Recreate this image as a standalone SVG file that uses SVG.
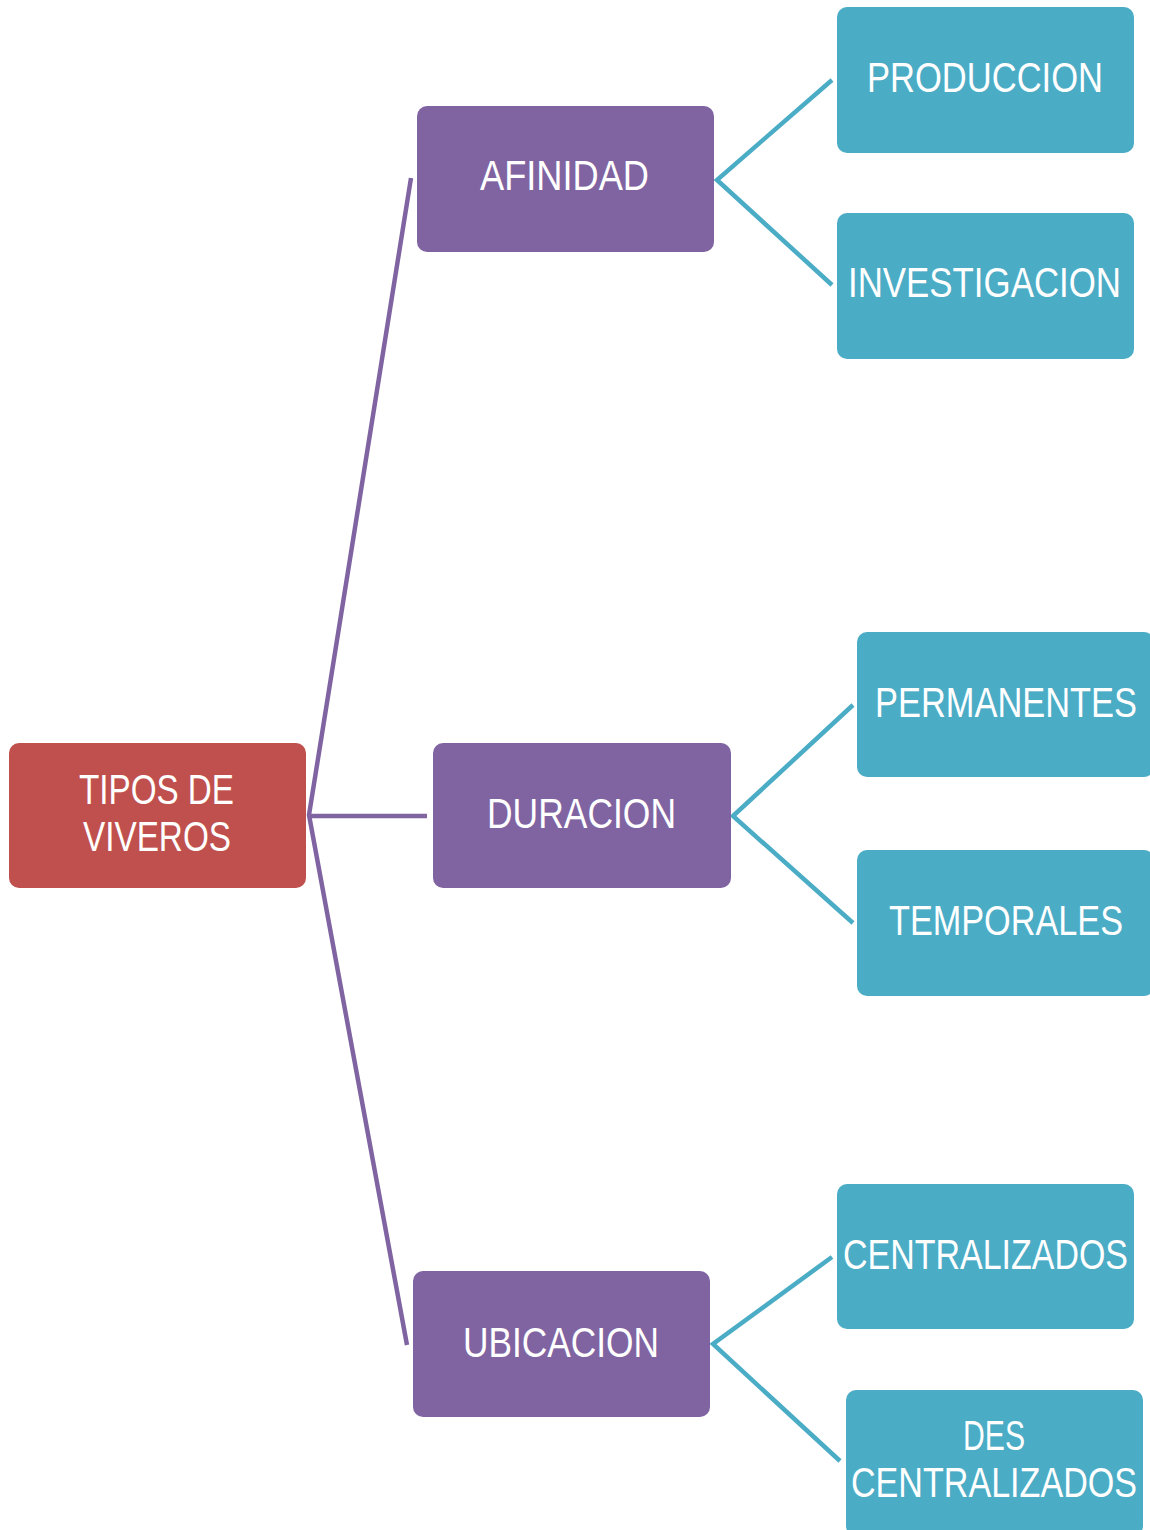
<svg xmlns="http://www.w3.org/2000/svg" width="1150" height="1530" viewBox="0 0 1150 1530">
<style>
.root{fill:#C0504D}
.mid{fill:#8064A2}
.leaf{fill:#4BACC6}
text{font-family:"Liberation Sans","DejaVu Sans",Arial,sans-serif;font-size:42px;fill:#FFFFFF;text-anchor:middle}
.c1{fill:none;stroke:#8064A2;stroke-width:4.5;stroke-linejoin:miter}
.c2{fill:none;stroke:#4BACC6;stroke-width:4.5;stroke-linejoin:miter}
</style>
<rect width="1150" height="1530" fill="#FFFFFF"/>
<g id="connectors">
<path class="c1" d="M411,178 L309,815 L407,1345"/>
<path class="c1" d="M309,816 L427,816"/>
<path class="c2" d="M832,80 L717,180 L832,285"/>
<path class="c2" d="M853,705 L733,816 L853,923"/>
<path class="c2" d="M832,1257 L713,1344 L840,1461"/>
</g>
<g id="tipos">
<rect class="root" x="9" y="743" width="297" height="145" rx="10"/>
<text x="156.5" y="804" textLength="155" lengthAdjust="spacingAndGlyphs">TIPOS DE</text>
<text x="157" y="851" textLength="148" lengthAdjust="spacingAndGlyphs">VIVEROS</text>
</g>
<g id="afinidad">
<rect class="mid" x="417" y="106" width="297" height="146" rx="10"/>
<text x="564.5" y="190" textLength="169" lengthAdjust="spacingAndGlyphs">AFINIDAD</text>
</g>
<g id="duracion">
<rect class="mid" x="433" y="743" width="298" height="145" rx="10"/>
<text x="581.5" y="828" textLength="189" lengthAdjust="spacingAndGlyphs">DURACION</text>
</g>
<g id="ubicacion">
<rect class="mid" x="413" y="1271" width="297" height="146" rx="10"/>
<text x="561" y="1357" textLength="196" lengthAdjust="spacingAndGlyphs">UBICACION</text>
</g>
<g id="produccion">
<rect class="leaf" x="837" y="7" width="297" height="146" rx="10"/>
<text x="985" y="92" textLength="236" lengthAdjust="spacingAndGlyphs">PRODUCCION</text>
</g>
<g id="investigacion">
<rect class="leaf" x="837" y="213" width="297" height="146" rx="10"/>
<text x="984.5" y="297" textLength="273" lengthAdjust="spacingAndGlyphs">INVESTIGACION</text>
</g>
<g id="permanentes">
<rect class="leaf" x="857" y="632" width="297" height="145" rx="10"/>
<text x="1006" y="717" textLength="262" lengthAdjust="spacingAndGlyphs">PERMANENTES</text>
</g>
<g id="temporales">
<rect class="leaf" x="857" y="850" width="297" height="146" rx="10"/>
<text x="1006" y="935" textLength="234" lengthAdjust="spacingAndGlyphs">TEMPORALES</text>
</g>
<g id="centralizados">
<rect class="leaf" x="837" y="1184" width="297" height="145" rx="10"/>
<text x="985.5" y="1269" textLength="285" lengthAdjust="spacingAndGlyphs">CENTRALIZADOS</text>
</g>
<g id="descentralizados">
<rect class="leaf" x="846" y="1390" width="297" height="146" rx="10"/>
<text x="994" y="1450" textLength="62" lengthAdjust="spacingAndGlyphs">DES</text>
<text x="994" y="1497" textLength="286" lengthAdjust="spacingAndGlyphs">CENTRALIZADOS</text>
</g>
</svg>
